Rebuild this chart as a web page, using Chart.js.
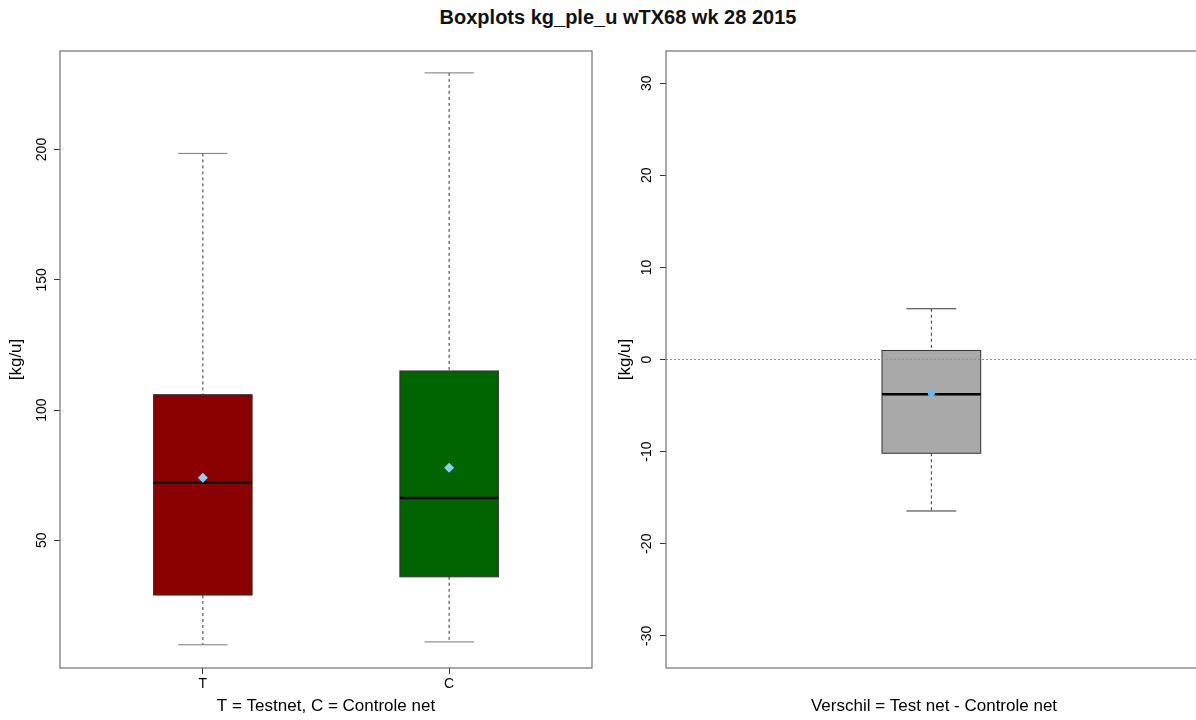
<!DOCTYPE html>
<html>
<head>
<meta charset="utf-8">
<title>Boxplots kg_ple_u wTX68 wk 28 2015</title>
<script src="https://cdn.jsdelivr.net/npm/chart.js@4.4.0/dist/chart.umd.min.js"></script>
<style>
html, body { margin: 0; padding: 0; background: #fff; overflow: hidden; width: 1196px; height: 720px; }
#title { position: absolute; left: 0; top: 0; width: 1236px; text-align: center; font: bold 20px "Liberation Sans", Arial, sans-serif; line-height: 24px; padding-top: 5px; color: #111; }
#left { position: absolute; left: 0; top: 0; }
#right { position: absolute; left: 600px; top: 0; }
</style>
</head>
<body>
<div id="title">Boxplots kg_ple_u wTX68 wk 28 2015</div>
<canvas id="left" width="600" height="720"></canvas>
<canvas id="right" width="606" height="720"></canvas>
<script>
// left panel : T / C
var categories = ['T', 'C'];
var catPos = [1, 2];
var lowWhisker = [9.9, 11.0];
var q1 = [29.0, 36.0];
var medians = [72.1, 66.2];
var q3 = [105.9, 115.0];
var highWhisker = [198.5, 229.4];
var means = [74.0, 77.9];
var boxColors = ['#8B0000', '#006400'];
var leftTicks = [50, 100, 150, 200];

// right panel : verschil
var diffPos = [1];
var diffLow = [-16.45];
var diffQ1 = [-10.18];
var diffMedian = [-3.77];
var diffQ3 = [0.98];
var diffHigh = [5.51];
var diffMean = [-3.66];
var diffColors = ['#A9A9A9'];
var rightTicks = [-30, -20, -10, 0, 10, 20, 30];
var refLine = [0];

Chart.defaults.font.family = '"Liberation Sans", Arial, sans-serif';
Chart.defaults.color = '#000';

function line(ctx, x1, y1, x2, y2) {
	ctx.beginPath();
	ctx.moveTo(x1, y1);
	ctx.lineTo(x2, y2);
	ctx.stroke();
}

function boxplotPlugin(stats, style) {
	return {
		id: 'boxplot',
		beforeDatasetsDraw: function(chart) {
			var ctx = chart.ctx, xs = chart.scales.x, ys = chart.scales.y;
			ctx.save();
			for (var i = 0; i < stats.pos.length; i++) {
				var xc = xs.getPixelForValue(stats.pos[i]);
				var bw = xs.getPixelForValue(stats.pos[i] + style.boxHalf) - xc;
				var cw = xs.getPixelForValue(stats.pos[i] + style.capHalf) - xc;
				var yLo = ys.getPixelForValue(stats.low[i]);
				var yQ1 = ys.getPixelForValue(stats.q1[i]);
				var yMed = ys.getPixelForValue(stats.med[i]);
				var yQ3 = ys.getPixelForValue(stats.q3[i]);
				var yHi = ys.getPixelForValue(stats.high[i]);
				// whiskers
				ctx.lineWidth = 1;
				ctx.strokeStyle = '#333';
				ctx.setLineDash([3, 3]);
				line(ctx, xc, yHi, xc, yQ3);
				line(ctx, xc, yQ1, xc, yLo);
				ctx.setLineDash([]);
				ctx.strokeStyle = style.capColor;
				line(ctx, xc - cw, yHi, xc + cw, yHi);
				line(ctx, xc - cw, yLo, xc + cw, yLo);
				// box
				ctx.fillStyle = stats.colors[i];
				ctx.fillRect(xc - bw, yQ3, 2 * bw, yQ1 - yQ3);
				ctx.strokeStyle = '#333';
				ctx.strokeRect(xc - bw, yQ3, 2 * bw, yQ1 - yQ3);
				// median
				ctx.lineWidth = 2.5;
				ctx.strokeStyle = '#000';
				line(ctx, xc - bw, yMed, xc + bw, yMed);
			}
			ctx.restore();
		},
		afterDatasetsDraw: function(chart) {
			if (!stats.ref) return;
			var ctx = chart.ctx, a = chart.chartArea, ys = chart.scales.y;
			ctx.save();
			ctx.strokeStyle = '#8C8CC4';
			ctx.lineWidth = 1;
			ctx.setLineDash([2, 2]);
			for (var i = 0; i < stats.ref.length; i++) {
				var yy = ys.getPixelForValue(stats.ref[i]);
				line(ctx, a.left, yy, a.right, yy);
			}
			ctx.restore();
		},
		afterDraw: function(chart) {
			var ctx = chart.ctx, a = chart.chartArea;
			ctx.save();
			ctx.strokeStyle = '#707070';
			ctx.lineWidth = 1.2;
			ctx.strokeRect(a.left, a.top, a.right - a.left, a.bottom - a.top);
			ctx.restore();
		}
	};
}

function yAxis(lo, hi, tickList, width, tickPad, titlePad) {
	return {
		type: 'linear',
		min: lo,
		max: hi,
		afterBuildTicks: function(s) { s.ticks = tickList.map(function(v) { return {value: v}; }); },
		afterFit: function(s) { s.width = width; },
		ticks: { minRotation: 90, maxRotation: 90, crossAlign: 'center', padding: tickPad, font: {size: 14}, color: '#000' },
		grid: { drawOnChartArea: false, drawTicks: true, tickLength: 6, tickColor: '#333' },
		border: { display: false },
		title: { display: true, text: '[kg/u]', font: {size: 17}, color: '#000', padding: {top: titlePad, bottom: 0} }
	};
}

var meansData = catPos.map(function(p, i) { return {x: p, y: means[i]}; });

new Chart(document.getElementById('left').getContext('2d'), {
	type: 'scatter',
	data: {
		datasets: [{
			data: meansData,
			pointStyle: 'rectRot',
			pointRadius: 5,
			backgroundColor: '#87CEFA',
			borderWidth: 0
		}]
	},
	options: {
		responsive: false,
		animation: false,
		devicePixelRatio: 1,
		layout: { padding: { top: 51, right: 8, left: 0, bottom: 0 } },
		plugins: { legend: { display: false }, tooltip: { enabled: false } },
		scales: {
			x: {
				type: 'linear',
				min: 0.42,
				max: 2.58,
				afterBuildTicks: function(s) { s.ticks = catPos.map(function(v) { return {value: v}; }); },
				afterFit: function(s) { s.height = 52; },
				ticks: {
					callback: function(v, i) { return categories[i]; },
					autoSkip: false, maxRotation: 0, padding: 2, font: {size: 14}, color: '#000'
				},
				grid: { drawOnChartArea: false, drawTicks: true, tickLength: 6, tickColor: '#333' },
				border: { display: false },
				title: { display: true, text: 'T = Testnet, C = Controle net', font: {size: 17}, color: '#000', padding: {top: 0, bottom: 3} }
			},
			y: yAxis(1, 237.8, leftTicks, 60, 0.3, 5.8)
		}
	},
	plugins: [boxplotPlugin({pos: catPos, low: lowWhisker, q1: q1, med: medians, q3: q3, high: highWhisker, colors: boxColors},
		{boxHalf: 0.2, capHalf: 0.1, capColor: '#777'})]
});

var diffMeanData = diffPos.map(function(p, i) { return {x: p, y: diffMean[i]}; });

new Chart(document.getElementById('right').getContext('2d'), {
	type: 'scatter',
	data: {
		datasets: [{
			data: diffMeanData,
			pointStyle: 'circle',
			pointRadius: 3.5,
			backgroundColor: '#66BBF0',
			borderWidth: 0
		}]
	},
	options: {
		responsive: false,
		animation: false,
		devicePixelRatio: 1,
		layout: { padding: { top: 51, right: 1, left: 0, bottom: 0 } },
		plugins: { legend: { display: false }, tooltip: { enabled: false } },
		scales: {
			x: {
				type: 'linear',
				min: 0.5,
				max: 1.51,
				afterFit: function(s) { s.height = 52; },
				ticks: { display: false },
				grid: { display: false },
				border: { display: false },
				title: { display: true, text: 'Verschil = Test net - Controle net', font: {size: 17}, color: '#000', padding: {top: 0, bottom: 3} }
			},
			y: yAxis(-33.5, 33.5, rightTicks, 66, 2.9, 14.8)
		}
	},
	plugins: [boxplotPlugin({pos: diffPos, low: diffLow, q1: diffQ1, med: diffMedian, q3: diffQ3, high: diffHigh, colors: diffColors, ref: refLine},
		{boxHalf: 0.093, capHalf: 0.047, capColor: '#333'})]
});
</script>
</body>
</html>
